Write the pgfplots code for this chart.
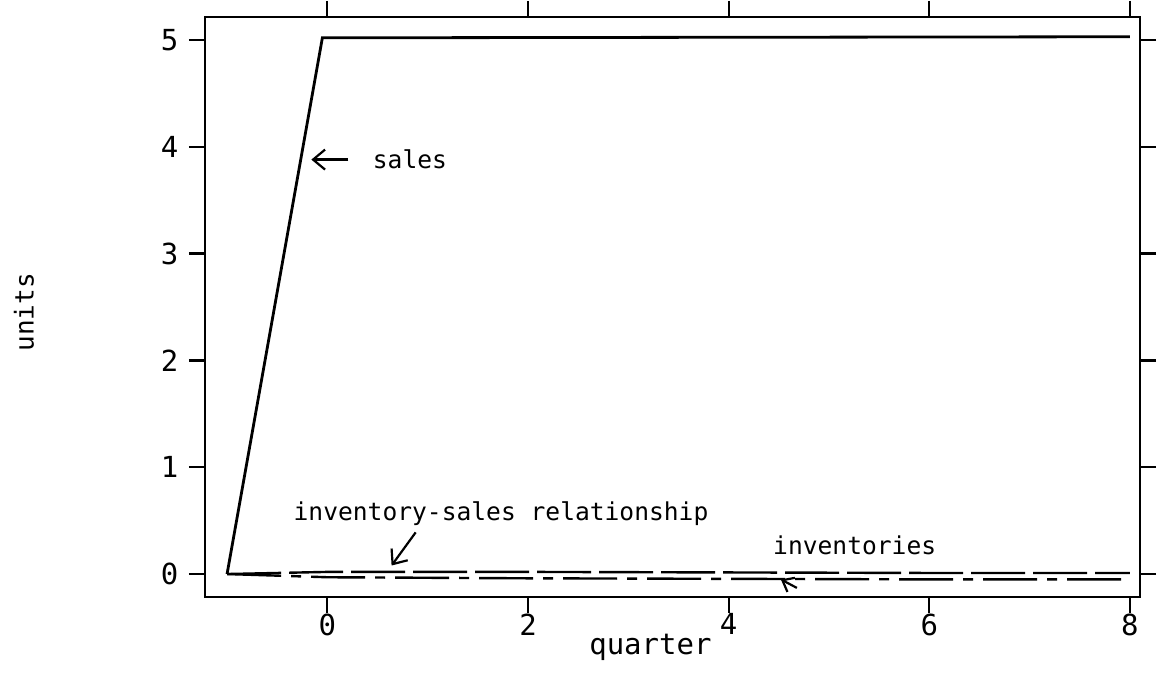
\documentclass[border=0pt]{standalone}
\usepackage{pgfplots}
\pgfplotsset{compat=1.18}
\usetikzlibrary{arrows.meta}
\usepackage{fontspec}
\setmainfont{DejaVu Sans Mono}
\begin{document}
\fontsize{12.3pt}{14pt}\selectfont
\begin{tikzpicture}
\useasboundingbox (-102.5pt,-39pt) rectangle (480pt,298.5pt);
\begin{axis}[
  at={(0,0)}, anchor=south west,
  width=467.5pt, height=290pt, scale only axis=true,
  xmin=-1.22, xmax=8.1, ymin=-0.215, ymax=5.215,
  xtick={0,2,4,6,8}, ytick={0,1,2,3,4,5},
  tick align=outside, major tick length=8pt,
  axis line style={line width=1.1pt},
  every tick/.style={line width=1.1pt, black},
  /pgf/number format/assume math mode=true,
  tick label style={font=\fontsize{14.5pt}{16pt}\selectfont},
  xticklabel style={yshift=4pt},
  yticklabel style={xshift=-1pt},
  clip=false,
]
\addplot[line width=1.4pt, black] coordinates {(-1,0) (-0.05,5.02) (8,5.03)};
\addplot[line width=1.2pt, black, dash pattern=on 27pt off 4pt] coordinates {(-1,0) (0,0.02) (2,0.02) (4,0.015) (6,0.01) (8,0.01)};
\addplot[line width=1.2pt, black, dash pattern=on 27pt off 5pt on 5pt off 5pt] coordinates {(-1,0) (0,-0.03) (2,-0.04) (4,-0.045) (6,-0.05) (8,-0.05)};
% annotations
\draw[-{Straight Barb[length=6pt,width=10pt]}, line width=1.1pt] (axis cs:0.21,3.88) -- (axis cs:-0.16,3.88);
\node[anchor=west, inner sep=0pt] at (axis cs:0.45,3.88) {sales};
\node[anchor=west, inner sep=0pt] at (axis cs:-0.34,0.57) {inventory-sales relationship};
\draw[-{Straight Barb[length=6pt,width=10pt]}, line width=1.1pt] (axis cs:0.88,0.39) -- (axis cs:0.64,0.08);
\node[anchor=west, inner sep=0pt] at (axis cs:4.44,0.27) {inventories};
\draw[-{Straight Barb[length=5pt,width=8pt]}, line width=1.1pt] (axis cs:4.68,-0.13) -- (axis cs:4.52,-0.05);
\node[rotate=90, font=\fontsize{13pt}{15pt}\selectfont] at ([xshift=-90.5pt]axis cs:-1.22,2.45) {units};
\node[font=\fontsize{14.5pt}{16pt}\selectfont] at ([yshift=-25pt]axis cs:3.22,-0.215) {quarter};
\end{axis}
\end{tikzpicture}
\end{document}
